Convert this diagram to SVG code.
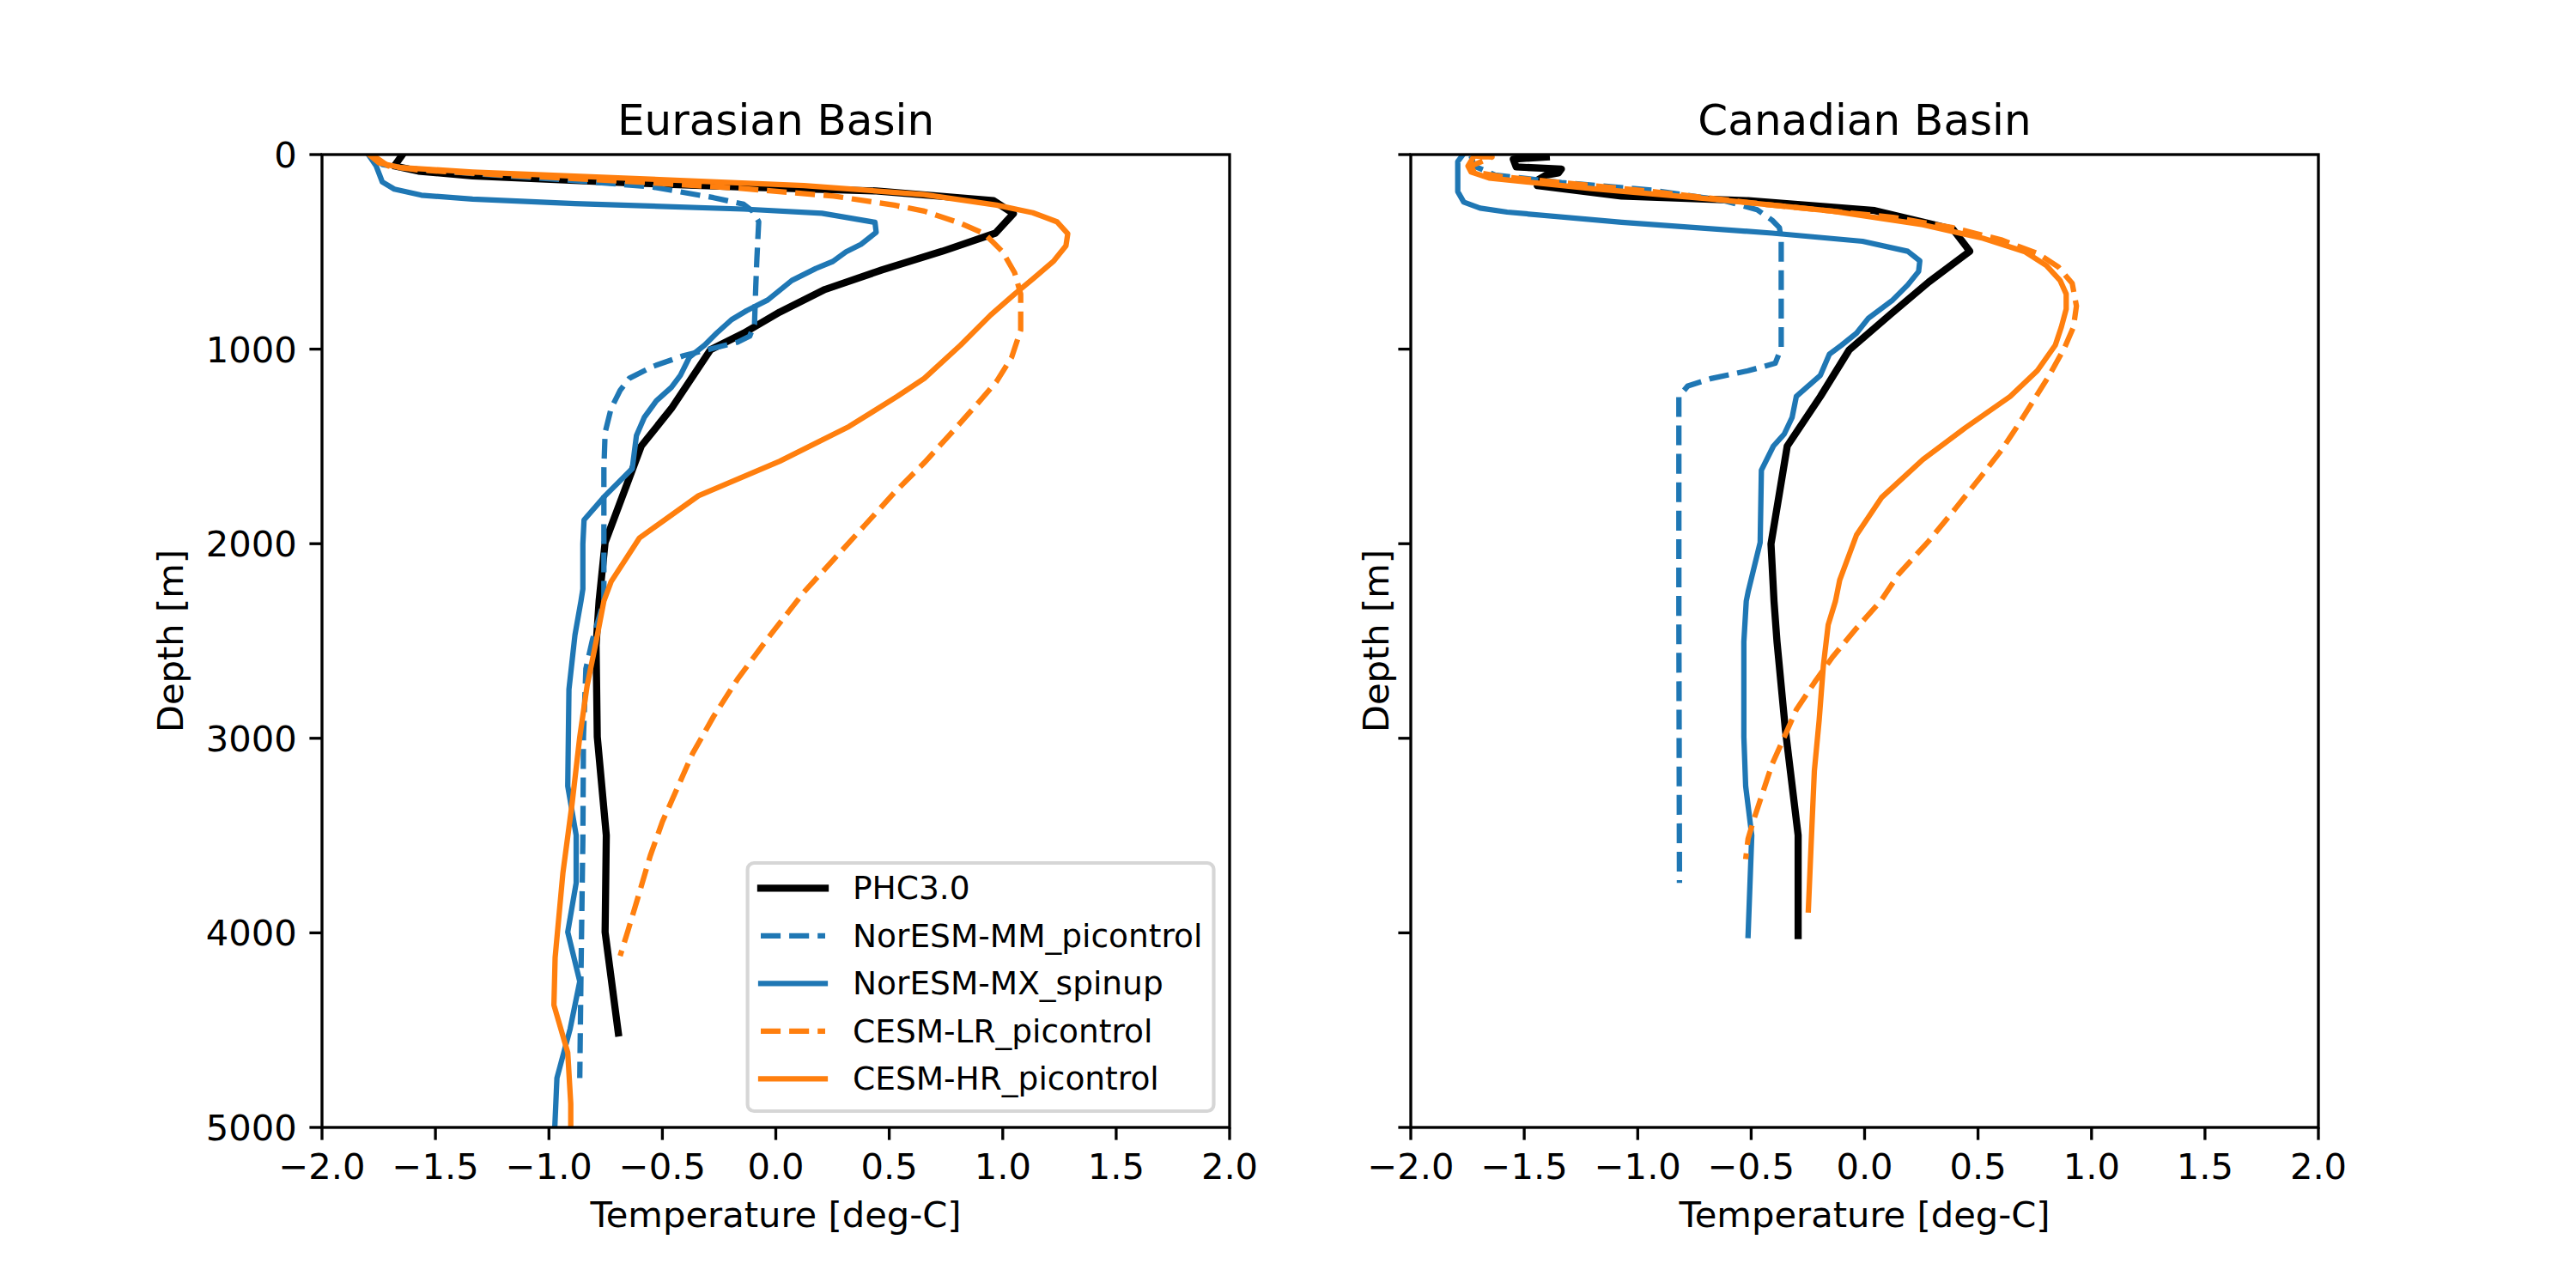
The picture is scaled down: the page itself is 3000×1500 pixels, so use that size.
<svg xmlns="http://www.w3.org/2000/svg" width="3000" height="1500" viewBox="0 0 3000 1500">
<style>
text{font-family:"DejaVu Sans","Liberation Sans",sans-serif;fill:#000}
.tick{font-size:41.67px}
.lab{font-size:41.67px}
.ttl{font-size:50px}
.leg{font-size:37.5px}
.mid{text-anchor:middle}
.end{text-anchor:end}
.spine{fill:none;stroke:#000;stroke-width:3.33;stroke-linejoin:miter}
.tk{stroke:#000;stroke-width:3.33}
.c{fill:none;stroke-linejoin:round}
.phc{stroke:#000;stroke-width:8.33;stroke-linecap:square}
.mm{stroke:#1f77b4;stroke-width:6.25;stroke-dasharray:23.1 10;stroke-linecap:butt}
.mx{stroke:#1f77b4;stroke-width:6.25;stroke-linecap:square}
.lr{stroke:#ff7f0e;stroke-width:6.25;stroke-dasharray:23.1 10;stroke-linecap:butt}
.hr{stroke:#ff7f0e;stroke-width:6.25;stroke-linecap:square}
</style>
<defs>
<clipPath id="clipL"><rect x="375" y="180" width="1057" height="1133"/></clipPath>
<clipPath id="clipR"><rect x="1643" y="180" width="1057" height="1133"/></clipPath>
</defs>
<rect x="0" y="0" width="3000" height="1500" fill="#fff"/>

<g id="eurasian-basin">
<g id="connectors-left" clip-path="url(#clipL)">
<polyline class="c phc" points="468,181 459.2,193.3 487.2,199.3 550.4,204.9 725.8,212.6 866,217.9 1020.4,222.4 1157.2,233.7 1180.3,248.7 1159.3,271.5 1097.5,292.6 1027.4,314.3 960.8,337.1 908.1,363.4 866.1,388 827.5,407.3 781.9,475.7 746.8,519.5 704.7,631.8 697.7,700 694.2,751.4 695.6,858.2 706.1,972.8 704.7,1085.5 720.1,1203"/>
<polyline class="c mm" points="434.6,181 445.2,191.6 466.2,195.1 550.4,202.1 655.6,209.1 760.8,217.9 831,230.2 866.1,237.9 876.6,245.9 883.6,258.2 881.5,300.3 880.1,335.4 878.7,377.5 873.1,391.5 859,398.5 831,405.5 795.9,414.3 760.8,426.6 732.8,440.6 722.2,454.6 711.7,475.7 704.7,503.7 703.3,545.8 703.3,700 690,745 682.3,779 679.5,858.2 678.8,976.8 676.6,1135 675.2,1255.5"/>
<polyline class="c mx" points="429.7,181 438.1,193.3 445.2,211.9 459.2,220.3 490.7,227.3 550.4,231.9 669.6,237.2 866,243.5 957.2,248.4 1019,258.9 1020.4,270.5 1002.8,284.5 985.3,293.3 969.9,304.5 950.2,312.6 922.2,326.6 894.1,349.4 869.6,361.7 852,372.2 834.5,388 820.5,402 802.9,416 792.4,437.1 781.9,451.1 764.3,466.9 750.3,486.2 741.2,507.2 736.3,545.8 704.7,577.4 680.2,605.5 678.8,633.5 678.8,686.1 676.6,700 669.6,739.5 662.6,802.8 661.2,915.5 671,972.8 671,1028.2 661.2,1085.5 675.2,1142.9 664,1198.2 648.6,1255.5 645.8,1320"/>
<polyline class="c lr" points="434.6,181 452.2,193.3 487.2,197.9 585.5,203.8 725.8,210.9 866.1,219.6 971.3,228.4 1041.4,238.9 1076.5,245.9 1118.6,260 1146.6,272.2 1167.7,293.3 1181.7,317.8 1188.7,342.4 1188.7,384.5 1178.2,416 1160.7,444.1 1139.6,468.7 1111.6,500.2 1076.5,538.8 1041.4,573.9 1006.4,612.5 971.3,651.1 936.2,689.6 894.1,743.5 859,790.9 831,834.4 806.4,877.9 788.9,917.5 771.4,957 757.3,996.6 743.3,1044 731.4,1083.6 722.2,1113.2"/>
<polyline class="c hr" points="431.1,181 441.6,189.8 466.2,195.1 550.4,200.3 725.8,207.4 936.2,216.1 1076.5,226.6 1160.7,238.9 1202.8,247.7 1230.8,258.2 1243.5,272.2 1241.4,286.3 1227.3,303.8 1202.8,324.9 1181.7,342.4 1153.7,366.9 1118.6,402 1076.5,440.6 1044.9,461.7 988.8,496.7 908.1,537.1 813.4,577.4 744.7,626.5 711.7,677.4 703.3,700 694.2,747.4 683.7,798.9 675.2,858.2 666.1,937.2 655.6,1016.3 646.5,1115.2 645.1,1170.5 661.2,1225.9 664.7,1285.2 664.7,1320"/>
</g>
<rect class="spine" x="375" y="180" width="1057" height="1133"/>
<g id="ticks-left">
<line class="tk" x1="360.4" y1="180" x2="375" y2="180"/>
<line class="tk" x1="360.4" y1="406.6" x2="375" y2="406.6"/>
<line class="tk" x1="360.4" y1="633.2" x2="375" y2="633.2"/>
<line class="tk" x1="360.4" y1="859.8" x2="375" y2="859.8"/>
<line class="tk" x1="360.4" y1="1086.4" x2="375" y2="1086.4"/>
<line class="tk" x1="360.4" y1="1313" x2="375" y2="1313"/>
<line class="tk" x1="375" y1="1313" x2="375" y2="1327.6"/>
<line class="tk" x1="507.1" y1="1313" x2="507.1" y2="1327.6"/>
<line class="tk" x1="639.3" y1="1313" x2="639.3" y2="1327.6"/>
<line class="tk" x1="771.4" y1="1313" x2="771.4" y2="1327.6"/>
<line class="tk" x1="903.5" y1="1313" x2="903.5" y2="1327.6"/>
<line class="tk" x1="1035.6" y1="1313" x2="1035.6" y2="1327.6"/>
<line class="tk" x1="1167.8" y1="1313" x2="1167.8" y2="1327.6"/>
<line class="tk" x1="1299.9" y1="1313" x2="1299.9" y2="1327.6"/>
<line class="tk" x1="1432" y1="1313" x2="1432" y2="1327.6"/>
</g>
<g class="tick end">
<text x="345.8" y="194.9">0</text>
<text x="345.8" y="421.5">1000</text>
<text x="345.8" y="648.1">2000</text>
<text x="345.8" y="874.7">3000</text>
<text x="345.8" y="1101.3">4000</text>
<text x="345.8" y="1327.9">5000</text>
</g>
<g class="tick mid">
<text x="375" y="1372.7">−2.0</text>
<text x="507.1" y="1372.7">−1.5</text>
<text x="639.3" y="1372.7">−1.0</text>
<text x="771.4" y="1372.7">−0.5</text>
<text x="903.5" y="1372.7">0.0</text>
<text x="1035.6" y="1372.7">0.5</text>
<text x="1167.8" y="1372.7">1.0</text>
<text x="1299.9" y="1372.7">1.5</text>
<text x="1432" y="1372.7">2.0</text>
</g>
<text class="ttl mid" x="903.5" y="156.7">Eurasian Basin</text>
<text class="lab mid" x="903.5" y="1429">Temperature [deg-C]</text>
<text class="lab mid" transform="translate(213.3,746.5) rotate(-90)">Depth [m]</text>
</g>

<g id="legend">
<rect x="870.6" y="1005" width="542.9" height="289" rx="7.5" ry="7.5" fill="#fff" fill-opacity="0.8" stroke="#cccccc" stroke-opacity="0.8" stroke-width="4.17"/>
<line class="c phc" x1="886" y1="1034.3" x2="961" y2="1034.3"/>
<line class="c mm" x1="886" y1="1089.8" x2="961" y2="1089.8"/>
<line class="c mx" x1="886" y1="1145.3" x2="961" y2="1145.3"/>
<line class="c lr" x1="886" y1="1200.8" x2="961" y2="1200.8"/>
<line class="c hr" x1="886" y1="1256.3" x2="961" y2="1256.3"/>
<text class="leg" x="993" y="1047">PHC3.0</text>
<text class="leg" x="993" y="1102.5">NorESM-MM_picontrol</text>
<text class="leg" x="993" y="1158">NorESM-MX_spinup</text>
<text class="leg" x="993" y="1213.5">CESM-LR_picontrol</text>
<text class="leg" x="993" y="1269">CESM-HR_picontrol</text>
</g>

<g id="canadian-basin">
<g id="connectors-right" clip-path="url(#clipR)">
<polyline class="c phc" points="1800.8,182.8 1762.3,185.3 1765.8,194.4 1818.4,196.8 1814.9,201.4 1800.8,203.8 1791.7,209.1 1790.3,216.1 1888.5,228.4 2035.8,233.7 2183.2,245.2 2274.4,267 2294,292.6 2246.3,328.4 2200.7,366.9 2153.7,407.3 2120,461.7 2081.4,519.5 2062.5,633.5 2066,700 2069.5,747.4 2079.3,850.3 2094.1,972.8 2094.1,1089.5"/>
<polyline class="c mm" points="1713.2,181.7 1716.7,193.3 1741.2,203.8 1818.4,212.6 1923.6,221.4 2007.8,233.7 2046.4,244.2 2063.9,256.5 2072.3,265.2 2074.4,279.3 2074.4,405.5 2067.4,423.1 2035.8,431.8 1993.8,440.6 1965.7,449.4 1955.2,461.7 1955.2,710 1955.9,1028.2"/>
<polyline class="c mx" points="1702.6,181.7 1697.7,188.1 1697.7,223.1 1704.7,235.4 1723.7,242.4 1755.2,247 1888.5,258.9 2063.9,271.5 2169.1,281 2221.7,292.6 2235.8,303.8 2234.4,316.1 2221.7,331.9 2204.2,349.4 2176.1,370.4 2162.1,388 2144.6,402 2130.5,412.5 2120,437.1 2106,449.4 2092,461.7 2087.1,486.2 2077.9,505.5 2065.3,519.5 2051.3,547.6 2049.9,631.8 2035.8,689.6 2033.7,700 2030.9,747.4 2030.9,858.2 2033,915.5 2040.1,972.8 2035.8,1089.5"/>
<polyline class="c lr" points="1716.7,181.7 1737.7,182.8 1713.2,193.3 1716.7,200.3 1748.2,205.6 1923.6,223.1 2063.9,238.9 2204.2,253 2274.4,265.2 2330.5,279.3 2372.6,295 2397.1,310.8 2413.3,330.1 2418.2,356.4 2414.7,381 2404.1,405.5 2386.6,437.1 2369,465.2 2351.5,493.2 2330.5,524.8 2305.9,556.4 2277.9,591.4 2246.3,630 2211.2,668.6 2190.2,700 2162.1,731.6 2134.1,765.2 2113,794.9 2092,826.5 2078,858.2 2063.9,889.8 2053.4,921.4 2042.9,953.1 2035.8,976.8 2033,1000.5"/>
<polyline class="c hr" points="1716.7,181.7 1709.6,193.3 1713.2,200.3 1734.2,207.4 1853.5,219.6 1993.8,231.9 2134.1,245.9 2239.3,261.7 2309.4,277.5 2358.5,293.3 2383.1,309.1 2399.2,326.6 2406.3,342.4 2406.3,359.9 2400.6,381 2393.6,402 2372.6,431.8 2341,461.7 2288.4,498.5 2239.3,535.3 2191.6,579.1 2162.1,623 2142.5,675.6 2137.6,700 2129.1,727.7 2123.5,775.1 2118.6,838.4 2113,897.7 2109.5,976.8 2106,1059.8"/>
</g>
<rect class="spine" x="1643" y="180" width="1057" height="1133"/>
<g id="ticks-right">
<line class="tk" x1="1628.4" y1="180" x2="1643" y2="180"/>
<line class="tk" x1="1628.4" y1="406.6" x2="1643" y2="406.6"/>
<line class="tk" x1="1628.4" y1="633.2" x2="1643" y2="633.2"/>
<line class="tk" x1="1628.4" y1="859.8" x2="1643" y2="859.8"/>
<line class="tk" x1="1628.4" y1="1086.4" x2="1643" y2="1086.4"/>
<line class="tk" x1="1628.4" y1="1313" x2="1643" y2="1313"/>
<line class="tk" x1="1643" y1="1313" x2="1643" y2="1327.6"/>
<line class="tk" x1="1775.1" y1="1313" x2="1775.1" y2="1327.6"/>
<line class="tk" x1="1907.3" y1="1313" x2="1907.3" y2="1327.6"/>
<line class="tk" x1="2039.4" y1="1313" x2="2039.4" y2="1327.6"/>
<line class="tk" x1="2171.5" y1="1313" x2="2171.5" y2="1327.6"/>
<line class="tk" x1="2303.6" y1="1313" x2="2303.6" y2="1327.6"/>
<line class="tk" x1="2435.8" y1="1313" x2="2435.8" y2="1327.6"/>
<line class="tk" x1="2567.9" y1="1313" x2="2567.9" y2="1327.6"/>
<line class="tk" x1="2700" y1="1313" x2="2700" y2="1327.6"/>
</g>
<g class="tick mid">
<text x="1643" y="1372.7">−2.0</text>
<text x="1775.1" y="1372.7">−1.5</text>
<text x="1907.3" y="1372.7">−1.0</text>
<text x="2039.4" y="1372.7">−0.5</text>
<text x="2171.5" y="1372.7">0.0</text>
<text x="2303.6" y="1372.7">0.5</text>
<text x="2435.8" y="1372.7">1.0</text>
<text x="2567.9" y="1372.7">1.5</text>
<text x="2700" y="1372.7">2.0</text>
</g>
<text class="ttl mid" x="2171.5" y="156.7">Canadian Basin</text>
<text class="lab mid" x="2171.5" y="1429">Temperature [deg-C]</text>
<text class="lab mid" transform="translate(1617.3,746.5) rotate(-90)">Depth [m]</text>
</g>
</svg>
